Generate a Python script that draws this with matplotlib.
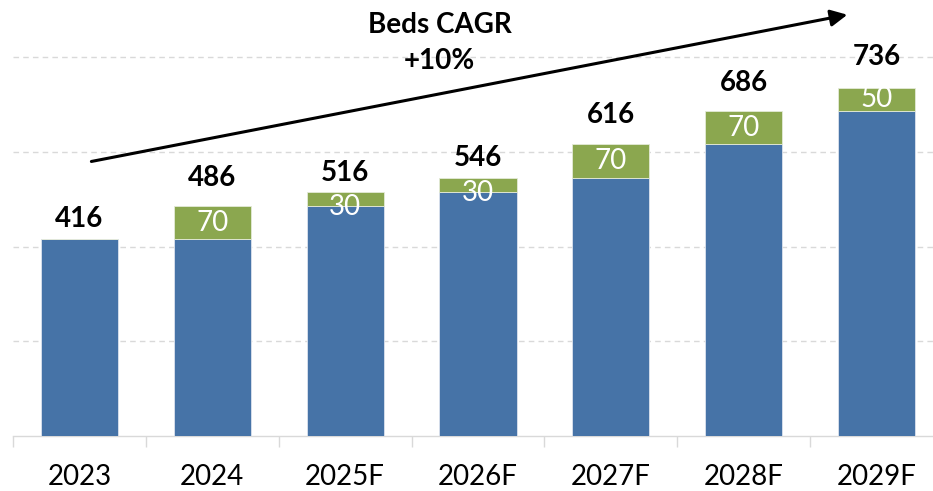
import matplotlib.pyplot as plt
import numpy as np

# Beds by year (base + additions)
years = ["2023", "2024", "2025F", "2026F", "2027F", "2028F", "2029F"]
base_beds = [416, 416, 486, 516, 546, 616, 686]
added_beds = [0, 70, 30, 30, 70, 70, 50]
total_beds = [416, 486, 516, 546, 616, 686, 736]

blue = "#4673A7"
green = "#8BA74F"
plt.rcParams["font.family"] = ["Lato", "DejaVu Sans"]

fig = plt.figure(figsize=(9.33, 4.91), dpi=100)
ax = fig.add_axes([13 / 933, 55 / 491, 930 / 933, 426 / 491])

x = np.arange(len(years))
ax.bar(x, base_beds, width=0.58, color=blue, edgecolor="#DCE3EE", linewidth=0.6, zorder=3)
ax.bar(x, added_beds, bottom=base_beds, width=0.58, color=green,
       edgecolor="#E4EAD8", linewidth=0.6, zorder=3)

# labels inside the green part
for i in range(len(years)):
    if added_beds[i] > 0:
        off = -6 if added_beds[i] < 50 else 0
        ax.annotate(str(added_beds[i]), (x[i], base_beds[i] + added_beds[i] / 2),
                    xytext=(0, off), textcoords="offset points",
                    ha="center", va="center", color="white", fontsize=20, zorder=4)

# totals on top
gaps = [5, 11, 4, 5, 12, 11, 13]
for i in range(len(years)):
    ax.annotate(str(total_beds[i]), (x[i], total_beds[i]),
                xytext=(0, gaps[i]), textcoords="offset points",
                ha="center", va="bottom", fontsize=20, fontweight="bold")

# CAGR arrow
ax.annotate("", xy=(5.78, 890), xytext=(0.09, 580),
            arrowprops=dict(arrowstyle="-|>", color="black", lw=2.2,
                            mutation_scale=25, shrinkA=0, shrinkB=0),
            annotation_clip=False)
ax.text(2.71, 830, "Beds CAGR\n+10%", ha="center", va="center",
        fontsize=20, fontweight="bold", linespacing=1.45)

ax.set_xlim(-0.5, len(years) - 0.5)
ax.set_ylim(0, 900)
ax.set_yticks([200, 400, 600, 800])
ax.yaxis.grid(True, color="#D9D9D9", linestyle=(0, (4, 3)), linewidth=1)
ax.tick_params(axis="y", left=False, labelleft=False)

ax.set_xticks(x)
ax.set_xticklabels(years, fontsize=20)
ax.set_xticks(np.arange(len(years) + 1) - 0.5, minor=True)
ax.tick_params(axis="x", which="major", length=0, pad=20)
ax.tick_params(axis="x", which="minor", length=8, color="#D9D9D9", width=1)

for s in ["top", "right", "left"]:
    ax.spines[s].set_visible(False)
ax.spines["bottom"].set_color("#D9D9D9")
ax.spines["bottom"].set_linewidth(1)

plt.savefig("out.png", dpi=100)
plt.close()
